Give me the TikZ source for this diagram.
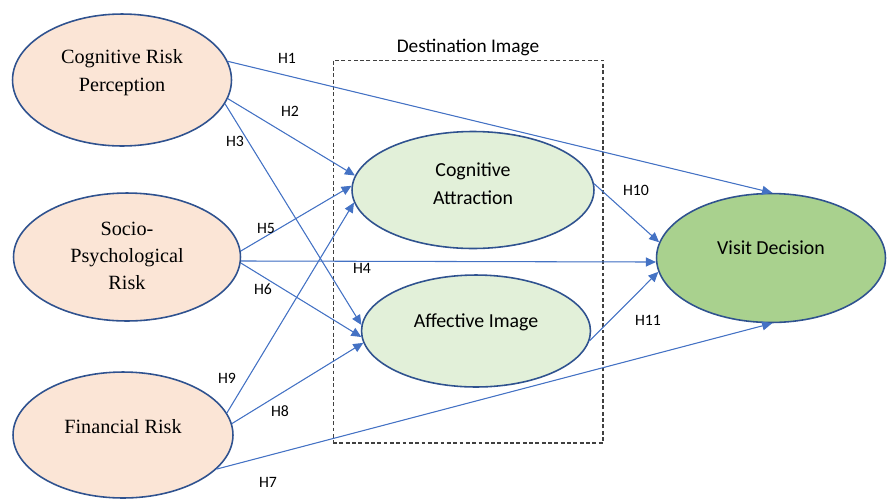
\documentclass[tikz,border=0pt]{standalone}
\usepackage{fontspec}
\setmainfont{Carlito}
\newfontfamily\timesfont{Liberation Serif}
\usetikzlibrary{arrows.meta,positioning,shapes.geometric}

\definecolor{peach}{HTML}{FBE5D6}
\definecolor{lightgreen}{HTML}{E2F0D9}
\definecolor{visitgreen}{HTML}{A9D18E}
\definecolor{rimblue}{HTML}{2F528F}
\definecolor{linkblue}{HTML}{4472C4}

\newcommand{\lift}[2][0pt]{\raisebox{#1}[\height][\depth]{\begin{tabular}{@{}c@{}}#2\end{tabular}}}

\begin{document}
\begin{tikzpicture}[
  x=0.02cm, y=-0.02cm,
  riskbox/.style={
    ellipse,
    draw=rimblue,
    line width=0.9pt,
    fill=peach,
    inner sep=0pt,
    font=\timesfont\fontsize{11.5}{15.5}\selectfont
  },
  imgbox/.style={
    ellipse,
    draw=rimblue,
    line width=0.9pt,
    fill=lightgreen,
    inner sep=0pt,
    font=\fontsize{11.3}{16}\selectfont
  },
  dimbox/.style={draw=black!75, line width=0.6pt, dash pattern=on 2.2pt off 1.4pt},
  hyp/.style={-{Triangle[length=2mm,width=1.8mm]}, draw=linkblue, fill=linkblue, line width=0.6pt},
  hlabel/.style={font=\fontsize{9}{10}\selectfont, inner sep=0pt}
]
\useasboundingbox (0,0) rectangle (889,498);

\node[dimbox, minimum width=5.4cm, minimum height=7.66cm] (dimg) at (468,251.5) {};
\node[above=2pt of dimg, inner sep=0pt, font=\fontsize{11}{13}\selectfont] (dimglabel) {Destination Image};

\node[riskbox, minimum width=4.38cm, minimum height=2.64cm] (crp) at (122,80) {\lift[4.5pt]{Cognitive Risk\\Perception}};
\node[riskbox, minimum width=4.54cm, minimum height=2.56cm] (spr) at (127,257) {\lift{Socio-\\Psychological\\Risk}};
\node[riskbox, minimum width=4.4cm, minimum height=2.52cm] (fr) at (123,435) {\lift[4pt]{Financial Risk}};
\node[imgbox, minimum width=4.84cm, minimum height=2.34cm] (ca) at (473,190) {\lift[3pt]{Cognitive\\Attraction}};
\node[imgbox, minimum width=4.58cm, minimum height=2.24cm] (ai) at (476,331) {\lift[5pt]{Affective Image}};
\node[imgbox, fill=visitgreen, minimum width=4.58cm, minimum height=2.58cm] (vd) at (771,258) {\lift[5pt]{Visit Decision}};

\draw[hyp] (crp.10) -- (vd.89);
\draw[hyp] (crp.-10) -- (ca.173);
\draw[hyp] (crp.-13) -- (ai.177);
\draw[hyp] (spr.-2) -- (vd.-178);
\draw[hyp] (spr.3) -- (ca.178);
\draw[hyp] (spr.-3) -- (ai.-177);
\draw[hyp] (fr.-20) -- (vd.-89);
\draw[hyp] (fr.6) -- (ai.-174);
\draw[hyp] (fr.12) -- (ca.-174);
\draw[hyp] (ca.3) -- (vd.172);
\draw[hyp] (ai.-5) -- (vd.-173);

\node[hlabel] (h1) at (287,58) {H1};
\node[hlabel] (h2) at (290,111) {H2};
\node[hlabel] (h3) at (235,141) {H3};
\node[hlabel] (h4) at (362,268) {H4};
\node[hlabel] (h5) at (266,228) {H5};
\node[hlabel] (h6) at (263,289) {H6};
\node[hlabel] (h7) at (268,482) {H7};
\node[hlabel] (h8) at (280,411) {H8};
\node[hlabel] (h9) at (227,378) {H9};
\node[hlabel] (h10) at (636,190) {H10};
\node[hlabel] (h11) at (648,320) {H11};
\end{tikzpicture}
\end{document}
